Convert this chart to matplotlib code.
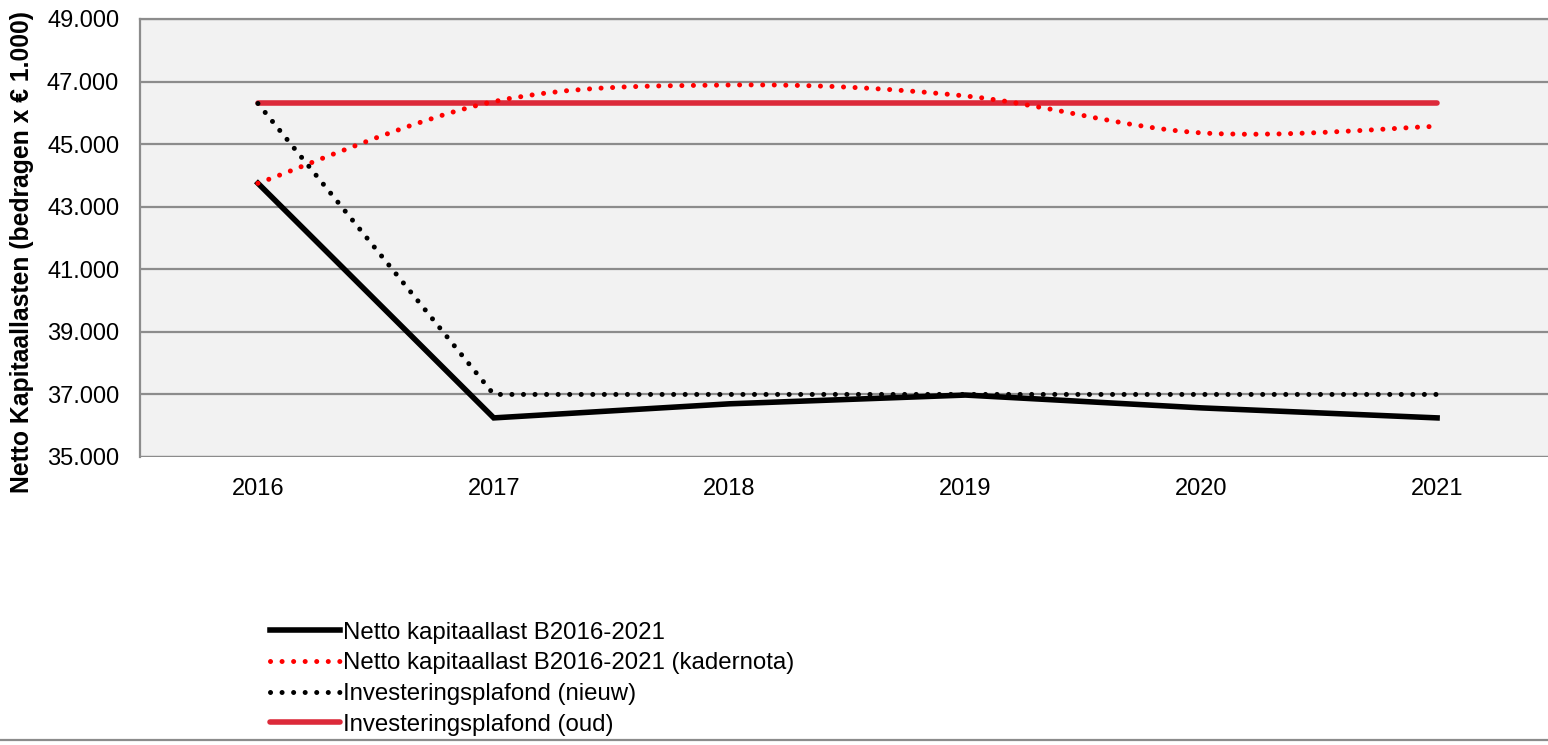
import matplotlib
matplotlib.use("Agg")
import matplotlib.pyplot as plt
import numpy as np
from matplotlib.path import Path
from matplotlib.patches import PathPatch
from matplotlib.lines import Line2D
from matplotlib.ticker import FuncFormatter

plt.rcParams['font.family'] = ['Liberation Sans', 'DejaVu Sans']

years = ['2016', '2017', '2018', '2019', '2020', '2021']
netto = [43750, 36250, 36700, 36980, 36570, 36250]
kadernota = [43750, 46360, 46890, 46540, 45360, 45570]
plafond_nieuw = [46300, 37000, 37000, 37000, 37000, 37000]
plafond_oud = [46300, 46300, 46300, 46300, 46300, 46300]

labels = ['Netto kapitaallast B2016-2021',
          'Netto kapitaallast B2016-2021 (kadernota)',
          'Investeringsplafond (nieuw)',
          'Investeringsplafond (oud)']

W, H = 1548, 745
FS = 17
fig = plt.figure(figsize=(W / 100, H / 100), dpi=100)
ax = fig.add_axes([140 / W, 1 - 457 / H, (1555 - 140) / W, (457 - 19) / H])
ax.set_facecolor('#f2f2f2')

x = np.arange(len(years))
dot = (0, (0.01, 2.3))

ax.plot(x, netto, color='black', lw=4.0, solid_joinstyle='miter', zorder=4)

# smoothed (Excel-style Bezier) curve for kadernota
pts = np.column_stack([x, kadernota]).astype(float)
verts = [tuple(pts[0])]
codes = [Path.MOVETO]
n = len(pts)
for i in range(n - 1):
    p0 = pts[i - 1] if i > 0 else pts[i]
    p1 = pts[i]
    p2 = pts[i + 1]
    p3 = pts[i + 2] if i + 2 < n else pts[i + 1]
    c1 = p1 + (p2 - p0) / 6.0
    c2 = p2 - (p3 - p1) / 6.0
    verts += [tuple(c1), tuple(c2), tuple(p2)]
    codes += [Path.CURVE4, Path.CURVE4, Path.CURVE4]
patch = PathPatch(Path(verts, codes), facecolor='none', edgecolor='#ff0000',
                  lw=3.6, linestyle=dot, capstyle='round', zorder=5)
ax.add_patch(patch)

ax.plot(x, plafond_nieuw, color='black', lw=3.6, linestyle=dot,
        dash_capstyle='round', zorder=5)
ax.plot(x, plafond_oud, color='#dc2a3a', lw=4.0, solid_capstyle='round', zorder=3)

ax.set_xlim(-0.5, 5.5)
ax.set_ylim(35000, 49000)
ax.set_yticks(np.arange(35000, 49001, 2000))
ax.yaxis.set_major_formatter(FuncFormatter(lambda v, p: f"{int(v):,}".replace(',', '.')))
ax.set_xticks(x)
ax.set_xticklabels(years)
ax.tick_params(axis='both', length=0, labelsize=FS, colors='black')
ax.tick_params(axis='y', pad=15)
ax.tick_params(axis='x', pad=15)
ax.grid(axis='y', color='#8c8c8c', lw=1.6, zorder=1)
ax.set_axisbelow(True)
for s in ['right', 'bottom']:
    ax.spines[s].set_visible(False)
ax.spines['top'].set_color('#8c8c8c')
ax.spines['top'].set_linewidth(1.6)
ax.spines['left'].set_color('#8c8c8c')
ax.spines['left'].set_linewidth(1.6)
ax.axhline(35000, color='#8c8c8c', lw=1.6, zorder=1)

ax.set_ylabel('Netto Kapitaallasten (bedragen x € 1.000)', fontsize=17.8,
              fontweight='bold')
ax.yaxis.set_label_coords((34 - 140) / 1415, 1 - (252 - 19) / 438)

handles = [
    Line2D([], [], color='black', lw=4.0),
    Line2D([], [], color='#ff0000', lw=3.6, linestyle=dot, dash_capstyle='round'),
    Line2D([], [], color='black', lw=3.6, linestyle=dot, dash_capstyle='round'),
    Line2D([], [], color='#dc2a3a', lw=4.0, solid_capstyle='round'),
]
fig.legend(handles, labels, loc='upper left', bbox_to_anchor=(260 / W, 1 - 612 / H),
           frameon=False, fontsize=17.3, handlelength=2.95, handletextpad=0.12,
           labelspacing=0.36, borderaxespad=0)

fig.add_artist(Line2D([0, 1], [1 - 740 / H, 1 - 740 / H], color='#8c8c8c', lw=1.6,
                      transform=fig.transFigure))

fig.savefig('out.png', dpi=100)
